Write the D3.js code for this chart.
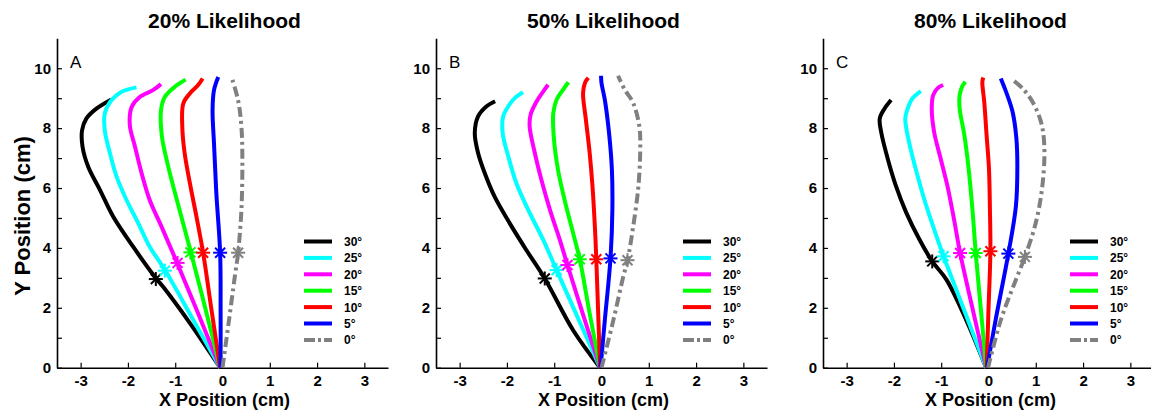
<!DOCTYPE html>
<html>
<head>
<meta charset="utf-8">
<script src="https://d3js.org/d3.v7.min.js"></script>
<style>
  body { margin: 0; background: #fff; }
  text { font-family: Arial, "Liberation Sans", Helvetica, sans-serif; }
</style>
</head>
<body>
<svg id="chart" width="1151" height="412"></svg>
<script>
// angle labels and colours, in drawing order
var angles = ["30°", "25°", "20°", "15°", "10°", "5°", "0°"];
var colors = ["#000000", "#00ffff", "#ff00ff", "#00ff00", "#ff0000", "#0000ff", "#808080"];
var titles = ["20% Likelihood", "50% Likelihood", "80% Likelihood"];
var letters = ["A", "B", "C"];
var xTicks = [-3, -2, -1, 0, 1, 2, 3];
var yTicks = [0, 1, 2, 3, 4, 5, 6, 7, 8, 9, 10];

// panel A (20%) trajectories, [x, y] in cm
var a30 = [[-0.05,0],[-0.69,1.49],[-1.26,2.71],[-1.41,2.99],[-1.89,4.04],[-2.31,5.04],[-2.59,5.93],[-2.84,6.71],[-2.96,7.38],[-2.97,7.93],[-2.88,8.32],[-2.66,8.66],[-2.35,8.96]];
var a25 = [[-0.05,0],[-0.62,1.6],[-1.22,3.27],[-1.54,4.04],[-1.78,4.82],[-2.03,5.6],[-2.24,6.38],[-2.38,7.16],[-2.49,7.93],[-2.49,8.49],[-2.35,8.93],[-2.14,9.21],[-1.82,9.36]];
var a20 = [[-0.05,0],[-0.5,1.75],[-0.97,3.54],[-1.29,4.71],[-1.54,5.6],[-1.71,6.49],[-1.85,7.38],[-1.96,8.1],[-1.92,8.71],[-1.75,9.04],[-1.47,9.27],[-1.30,9.47]];
var a15 = [[-0.05,0],[-0.35,1.9],[-0.67,3.86],[-0.87,5.04],[-1.04,6.04],[-1.18,6.93],[-1.28,7.71],[-1.30,8.6],[-1.22,9.04],[-1.01,9.38],[-0.78,9.62]];
var a10 = [[-0.05,0],[-0.23,1.9],[-0.41,3.84],[-0.55,5.04],[-0.69,6.16],[-0.80,7.16],[-0.85,8.04],[-0.83,8.82],[-0.69,9.16],[-0.52,9.43],[-0.42,9.66]];
var a5 = [[-0.04,0],[-0.04,1.9],[-0.05,3.84],[-0.13,5.82],[-0.18,7.49],[-0.21,8.6],[-0.18,9.27],[-0.09,9.71]];
var a0 = [[0,0],[0.12,1.38],[0.26,3.04],[0.33,3.84],[0.40,5.27],[0.42,6.93],[0.40,8.04],[0.33,8.93],[0.19,9.71]];
var starsA = [[-1.41,2.96],[-1.22,3.24],[-0.95,3.5],[-0.68,3.85],[-0.41,3.84],[-0.05,3.84],[0.33,3.84]];

// panel B (50%)
var b30 = [[-0.03,0],[-0.60,1.25],[-1.20,2.98],[-1.59,3.93],[-1.94,4.82],[-2.26,5.71],[-2.47,6.50],[-2.61,7.17],[-2.68,7.83],[-2.61,8.39],[-2.43,8.73],[-2.25,8.90]];
var b25 = [[-0.03,0],[-0.49,1.63],[-0.95,3.26],[-1.23,4.26],[-1.55,5.27],[-1.80,6.16],[-1.97,7.05],[-2.09,7.83],[-2.08,8.39],[-1.97,8.73],[-1.83,9.01],[-1.66,9.20]];
var b20 = [[-0.03,0],[-0.38,1.72],[-0.72,3.43],[-0.88,4.26],[-1.09,5.27],[-1.27,6.27],[-1.41,7.17],[-1.52,8.06],[-1.50,8.45],[-1.37,8.90],[-1.23,9.23],[-1.13,9.45]];
var b15 = [[-0.03,0],[-0.25,1.81],[-0.46,3.62],[-0.60,4.49],[-0.78,5.60],[-0.92,6.61],[-1.01,7.72],[-1.02,8.50],[-0.95,8.95],[-0.81,9.29],[-0.70,9.53]];
var b10 = [[-0.03,0],[-0.07,1.81],[-0.11,3.62],[-0.14,4.71],[-0.19,6.05],[-0.25,7.17],[-0.33,8.28],[-0.39,9.17],[-0.35,9.51],[-0.28,9.68]];
var b5 = [[-0.02,0],[0.07,1.58],[0.19,3.65],[0.23,5.27],[0.22,6.61],[0.16,7.83],[0.07,8.95],[0.00,9.51],[-0.01,9.75]];
var b0 = [[0,0],[0.25,1.58],[0.46,3.04],[0.55,3.59],[0.67,4.71],[0.78,6.05],[0.82,7.39],[0.80,8.06],[0.67,8.84],[0.49,9.29],[0.35,9.75]];
var starsB = [[-1.20,2.98],[-0.95,3.26],[-0.72,3.43],[-0.46,3.62],[-0.11,3.62],[0.19,3.65],[0.55,3.59]];

// panel C (80%)
var c30 = [[-0.05,0],[-0.47,1.59],[-0.89,2.94],[-1.19,3.55],[-1.46,4.28],[-1.74,5.18],[-1.96,6.08],[-2.13,6.97],[-2.27,7.87],[-2.30,8.32],[-2.20,8.65],[-2.06,8.94]];
var c25 = [[-0.05,0],[-0.5,1.86],[-0.95,3.72],[-1.15,4.62],[-1.36,5.63],[-1.54,6.64],[-1.68,7.53],[-1.76,8.32],[-1.71,8.65],[-1.61,8.99],[-1.43,9.24]];
var c20 = [[-0.05,0],[-0.33,1.92],[-0.60,3.83],[-0.73,4.96],[-0.87,6.08],[-1.01,6.97],[-1.15,7.87],[-1.20,8.65],[-1.17,9.10],[-1.08,9.33],[-0.96,9.44]];
var c15 = [[-0.05,0],[-0.16,1.92],[-0.27,3.83],[-0.34,5.29],[-0.42,6.64],[-0.51,7.76],[-0.61,8.65],[-0.61,9.10],[-0.56,9.38],[-0.49,9.55]];
var c10 = [[-0.04,0],[0.0,1.95],[0.04,3.89],[0.03,5.29],[0.01,6.64],[-0.04,7.76],[-0.09,8.88],[-0.13,9.55],[-0.11,9.69]];
var c5 = [[-0.03,0],[0.15,1.59],[0.42,3.81],[0.58,5.40],[0.61,6.75],[0.59,7.65],[0.51,8.54],[0.37,9.22],[0.26,9.66]];
var c0 = [[-0.01,0],[0.26,1.59],[0.58,2.94],[0.77,3.70],[1.00,4.84],[1.14,6.08],[1.18,7.42],[1.11,8.21],[0.93,8.88],[0.72,9.33],[0.54,9.57]];
var starsC = [[-1.19,3.55],[-0.95,3.72],[-0.60,3.83],[-0.27,3.83],[0.04,3.89],[0.42,3.81],[0.77,3.70]];

var panelLines = [[a30,a25,a20,a15,a10,a5,a0],[b30,b25,b20,b15,b10,b5,b0],[c30,c25,c20,c15,c10,c5,c0]];
var panelStars = [starsA, starsB, starsC];
var panelLeft = [57, 436, 823];

var svg = d3.select("#chart");
var axW = 331;
var y = d3.scaleLinear().domain([0, 11]).range([367.7, 38.3]);

panelLeft.forEach(function (left, p) {
    var x = d3.scaleLinear().domain([-3.5, 3.5]).range([left, left + axW]);
    var g = svg.append("g");

    // axes (plain hyphen for negatives, like the original)
    var xa = g.append("g")
        .attr("transform", "translate(0," + y(0) + ")")
        .call(d3.axisBottom(x).tickValues(xTicks).tickSize(-5).tickSizeOuter(0).tickPadding(7.5)
            .tickFormat(function (d) { return String(d); }));
    var ya = g.append("g")
        .attr("transform", "translate(" + left + ",0)")
        .call(d3.axisLeft(y).tickValues(yTicks).tickSize(-5).tickSizeOuter(0).tickPadding(6)
            .tickFormat(function (d) { return d % 2 === 0 ? String(d) : ""; }));
    [xa, ya].forEach(function (a) {
        a.select(".domain").attr("stroke", "#000").attr("stroke-width", 1.6);
        a.selectAll(".tick line").attr("stroke", "#000").attr("stroke-width", 1.2);
        a.selectAll(".tick text")
            .attr("font-size", 15).attr("font-weight", "bold").attr("fill", "#000")
            .style("font-family", "Arial, 'Liberation Sans', sans-serif");
    });

    // trajectories
    var line = d3.line()
        .x(function (d) { return x(d[0]); })
        .y(function (d) { return y(d[1]); })
        .curve(d3.curveCatmullRom.alpha(0.5));
    panelLines[p].forEach(function (pts, i) {
        g.append("path")
            .attr("d", line(pts))
            .attr("fill", "none")
            .attr("stroke", colors[i])
            .attr("stroke-width", 4)
            .attr("stroke-linejoin", "round")
            .attr("stroke-dasharray", i === 6 ? "10,4,3,4" : null);
    });

    // asterisk markers
    panelStars[p].forEach(function (s, i) {
        var cx = x(s[0]), cy = y(s[1]);
        var r = 7, d = 5;
        var segs = [[-r, 0, r, 0], [0, -r, 0, r], [-d, -d, d, d], [-d, d, d, -d]];
        segs.forEach(function (sg) {
            g.append("line")
                .attr("x1", cx + sg[0]).attr("y1", cy + sg[1])
                .attr("x2", cx + sg[2]).attr("y2", cy + sg[3])
                .attr("stroke", colors[i]).attr("stroke-width", 2);
        });
    });

    // legend
    angles.forEach(function (lab, i) {
        var ly = 241.5 + i * 16.4;
        g.append("line")
            .attr("x1", left + 247).attr("x2", left + 275)
            .attr("y1", ly).attr("y2", ly)
            .attr("stroke", colors[i]).attr("stroke-width", 4)
            .attr("stroke-dasharray", i === 6 ? "11,3,3,3" : null);
        g.append("text")
            .attr("x", left + 287).attr("y", ly + 4.5)
            .attr("font-size", 12).attr("font-weight", "bold")
            .text(lab);
    });

    // title, panel letter, x label
    g.append("text")
        .attr("x", left + axW / 2 + 2).attr("y", 28)
        .attr("text-anchor", "middle")
        .attr("font-size", 21).attr("font-weight", "bold")
        .text(titles[p]);
    g.append("text")
        .attr("x", left + 13).attr("y", 68)
        .attr("font-size", 17)
        .text(letters[p]);
    g.append("text")
        .attr("x", left + axW / 2 + 2).attr("y", 405.5)
        .attr("text-anchor", "middle")
        .attr("font-size", 18).attr("font-weight", "bold")
        .text("X Position (cm)");
});

svg.append("text")
    .attr("transform", "translate(30,216) rotate(-90)")
    .attr("text-anchor", "middle")
    .attr("font-size", 22).attr("font-weight", "bold")
    .text("Y Position (cm)");
</script>
</body>
</html>
